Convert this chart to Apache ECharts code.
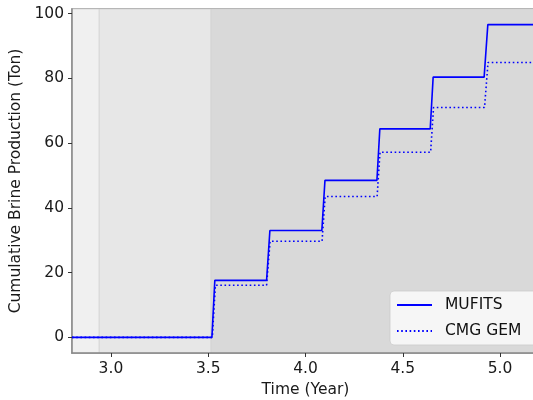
<!DOCTYPE html>
<html>
<head>
<meta charset="utf-8">
<script src="https://cdn.jsdelivr.net/npm/echarts@6/dist/echarts.min.js"></script>
<style>
  html, body { margin: 0; padding: 0; background: #fff; }
  #main { width: 533px; height: 400px; }
</style>
</head>
<body>
<div id="main"></div>
<script>
// step curves (year, ton)
const mufitsX = [2.8, 3.519, 3.534, 3.800, 3.817, 4.084, 4.100, 4.367, 4.382, 4.641, 4.656, 4.918, 4.937, 5.2];
const mufitsY = [0, 0, 17.6, 17.6, 33.0, 33.0, 48.5, 48.5, 64.4, 64.4, 80.4, 80.4, 96.6, 96.6];
const cmgX = [2.8, 3.521, 3.537, 3.800, 3.818, 4.085, 4.101, 4.368, 4.383, 4.643, 4.658, 4.920, 4.938, 5.2];
const cmgY = [0, 0, 16.1, 16.1, 29.7, 29.7, 43.5, 43.5, 57.2, 57.2, 71.0, 71.0, 84.9, 84.9];

const xTicks = [3.0, 3.5, 4.0, 4.5, 5.0];
const yTicks = [0, 20, 40, 60, 80, 100];

// shaded time periods
const periods = [
  [2.8, 2.94, '#f0f0f0'],
  [2.94, 3.515, '#e7e7e7'],
  [3.515, 5.2, '#d9d9d9']
];

const toPairs = (xs, ys) => xs.map((x, i) => [x, ys[i]]);

const font = 'DejaVu Sans';
const chart = echarts.init(document.getElementById('main'));

chart.setOption({
  animation: false,
  backgroundColor: '#fff',
  grid: {
    left: 72, right: -6, top: 9, bottom: 47,
    outerBoundsMode: 'none', containLabel: false,
    show: true, borderColor: '#888', borderWidth: 1.5, backgroundColor: 'transparent'
  },
  legend: {
    orient: 'vertical',
    left: 390, top: 291,
    padding: [6, 16, 6, 6],
    itemWidth: 35, itemHeight: 14, itemGap: 10,
    itemStyle: { opacity: 0 },
    backgroundColor: 'rgba(248,248,248,0.9)',
    borderColor: 'rgba(204,204,204,0.8)', borderWidth: 1, borderRadius: 4,
    textStyle: { fontFamily: font, fontSize: 15.5, color: '#111', padding: [0, 0, 0, 8] },
    data: ['MUFITS', 'CMG GEM']
  },
  xAxis: {
    type: 'value', min: 2.8, max: 5.2,
    name: 'Time (Year)', nameLocation: 'middle', nameGap: 29,
    nameTextStyle: { fontFamily: font, fontSize: 15.5, color: '#1a1a1a' },
    axisLine: { show: true, onZero: false, lineStyle: { color: '#888', width: 1.5 } },
    axisTick: { show: true, length: 4, customValues: xTicks, lineStyle: { color: '#333' } },
    axisLabel: {
      customValues: xTicks, margin: 8,
      fontFamily: font, fontSize: 15.5, color: '#1a1a1a',
      formatter: v => v.toFixed(1)
    },
    splitLine: { show: false }
  },
  yAxis: {
    type: 'value', min: -4.83, max: 101.43,
    name: 'Cumulative Brine Production (Ton)', nameLocation: 'middle', nameGap: 42,
    nameTextStyle: { fontFamily: font, fontSize: 15.5, color: '#1a1a1a' },
    axisLine: { show: true, onZero: false, lineStyle: { color: '#888', width: 1.5 } },
    axisTick: { show: true, length: 4, customValues: yTicks, lineStyle: { color: '#333' } },
    axisLabel: { customValues: yTicks, margin: 8, fontFamily: font, fontSize: 15.5, color: '#1a1a1a' },
    splitLine: { show: false }
  },
  series: [
    {
      name: 'MUFITS', type: 'line', symbol: 'none', z: 3,
      data: toPairs(mufitsX, mufitsY),
      lineStyle: { color: '#0000ff', width: 1.6 },
      itemStyle: { color: '#0000ff' },
      markArea: {
        silent: true, z: 0,
        data: periods.map(p => [
          { xAxis: p[0], itemStyle: { color: p[2], borderColor: '#d2d2d2', borderWidth: 0.8 } },
          { xAxis: p[1] }
        ])
      }
    },
    {
      name: 'CMG GEM', type: 'line', symbol: 'none', z: 2,
      data: toPairs(cmgX, cmgY),
      lineStyle: { color: '#0000ff', width: 1.6, type: [1.6, 2.6], cap: 'butt' },
      itemStyle: { color: '#0000ff' }
    }
  ]
});
</script>
</body>
</html>
